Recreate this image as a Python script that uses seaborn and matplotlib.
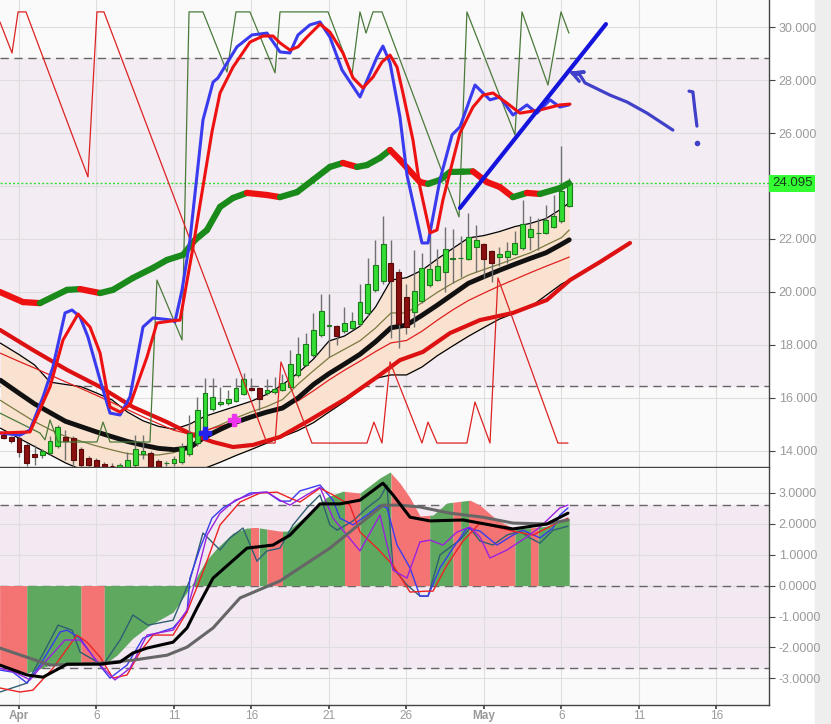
import numpy as np
import pandas as pd
import matplotlib
matplotlib.use("Agg")
import matplotlib.pyplot as plt
import matplotlib.transforms as mtransforms
from matplotlib.collections import LineCollection
import seaborn as sns

# x axis is days from Apr 1 (0 = Apr 1, 30 = May 1); candles every 12h
candle_x = np.arange(74) * 0.5 - 1.0
opens = [14.60, 14.53, 14.49, 14.23, 13.89, 13.85, 13.92, 14.19, 14.53, 14.49,
         14.08, 13.74, 13.66, 13.51, 13.45, 13.36, 13.40, 13.47, 13.89, 13.92,
         13.62, 13.55, 13.55, 13.58, 13.89, 14.30, 14.91, 15.58, 15.77, 15.81,
         15.89, 16.15, 16.38, 16.38, 16.19, 16.23, 16.30, 16.42, 16.87, 17.25,
         17.62, 18.38, 18.72, 18.72, 18.53, 18.64, 18.79, 19.21, 20.08, 20.41,
         21.09, 20.75, 19.81, 19.25, 19.66, 20.26, 20.45, 20.75, 21.25, 21.27,
         21.25, 21.70, 21.81, 21.55, 21.32, 21.32, 21.43, 21.66, 22.08, 22.22,
         22.23, 22.45, 22.68, 23.25]
closes = [14.49, 14.38, 13.96, 13.55, 13.77, 14.00, 14.38, 14.91, 14.38, 13.66,
          13.47, 13.47, 13.40, 13.36, 13.42, 13.47, 13.66, 14.08, 14.00, 13.40,
          13.40, 13.56, 13.70, 14.15, 14.68, 15.55, 16.19, 16.04, 15.85, 15.96,
          16.38, 16.72, 16.30, 15.96, 16.30, 16.34, 16.57, 17.28, 17.66, 18.04,
          18.57, 19.28, 18.75, 18.34, 18.83, 18.91, 19.62, 20.30, 21.02, 21.81,
          20.41, 18.79, 18.68, 20.04, 20.91, 20.87, 20.98, 21.62, 21.28, 21.29,
          22.08, 21.96, 21.25, 21.09, 21.43, 21.55, 21.85, 22.57, 22.38, 22.24,
          22.72, 22.87, 23.81, 24.095]
highs = [14.65, 14.58, 14.55, 14.30, 14.23, 14.08, 14.55, 14.98, 14.79, 14.55,
         14.15, 13.80, 13.75, 13.60, 13.55, 13.55, 13.95, 14.60, 14.60, 14.00,
         13.70, 13.62, 13.80, 14.30, 15.36, 16.04, 16.75, 16.75, 16.42, 16.30,
         16.75, 16.95, 16.75, 16.42, 16.72, 16.80, 16.90, 17.80, 18.30, 18.45,
         19.21, 19.92, 19.92, 18.75, 19.43, 19.25, 20.30, 21.28, 21.96, 22.87,
         21.96, 20.85, 20.30, 21.58, 21.47, 22.23, 21.62, 22.45, 22.38, 22.11,
         22.98, 22.53, 21.85, 21.60, 21.70, 21.90, 22.30, 23.47, 22.87, 22.80,
         23.28, 23.66, 25.51, 24.30]
lows = [14.45, 14.30, 13.77, 13.45, 13.47, 13.75, 13.85, 14.10, 13.66, 13.40,
        13.35, 13.35, 13.30, 13.30, 13.35, 13.30, 13.35, 13.40, 13.70, 13.30,
        13.30, 13.45, 13.45, 13.50, 13.80, 14.20, 14.80, 15.50, 15.70, 15.75,
        15.85, 16.10, 16.25, 15.55, 16.10, 16.15, 16.25, 16.35, 16.80, 17.20,
        17.55, 18.30, 17.55, 18.00, 18.45, 18.60, 18.70, 19.10, 20.00, 20.30,
        18.26, 17.89, 18.40, 18.68, 19.60, 20.20, 20.40, 20.00, 20.34, 20.57,
        21.20, 20.75, 20.53, 20.38, 20.98, 21.10, 21.40, 21.60, 21.60, 21.60,
        22.20, 22.40, 22.60, 23.20]
last_price = 24.095

# band lines (common x)
band_x = [-1.2] + list(range(0, 36)) + [35.5]
band_upper = [18.07, 17.64, 17.25, 16.60, 16.51, 16.43, 16.19, 15.93, 15.47, 15.14,
              14.93, 14.82, 15.01, 15.31, 15.50, 15.69, 15.88, 16.14, 16.50, 16.94,
              17.47, 18.15, 18.34, 18.71, 19.43, 20.45, 20.54, 20.82, 21.25, 21.65,
              22.04, 22.13, 22.28, 22.47, 22.59, 22.77, 23.14, 23.37]
band_mid = [16.67, 16.18, 15.78, 15.45, 15.12, 14.92, 14.72, 14.54, 14.36, 14.22,
            14.10, 14.05, 14.12, 14.53, 14.82, 15.09, 15.29, 15.47, 15.62, 16.00,
            16.51, 16.92, 17.28, 17.65, 18.12, 18.65, 18.75, 19.12, 19.51, 19.92,
            20.33, 20.58, 20.82, 21.05, 21.27, 21.48, 21.80, 21.97]
band_lower = [14.86, 14.48, 14.17, 13.86, 13.55, 13.30, 13.12, 12.93, 12.75, 12.82,
              12.95, 13.08, 13.20, 13.35, 13.58, 13.83, 14.06, 14.30, 14.54, 14.77,
              15.07, 15.47, 15.86, 16.30, 16.74, 16.87, 16.87, 17.17, 17.60, 17.97,
              18.33, 18.66, 18.98, 19.21, 19.44, 19.87, 20.30, 20.45]
band_olive = [15.91, 15.47, 15.11, 14.81, 14.55, 14.37, 14.19, 14.04, 13.90, 13.85,
              13.85, 13.94, 14.14, 14.75, 14.99, 15.25, 15.48, 15.68, 15.94, 16.52,
              17.03, 17.52, 17.84, 18.16, 18.64, 19.21, 19.21, 19.60, 19.99, 20.34,
              20.64, 20.85, 21.05, 21.27, 21.48, 21.77, 22.05, 22.34]
band_red = [17.69, 17.38, 17.13, 16.87, 16.61, 16.36, 16.10, 15.83, 15.56, 15.29,
            15.03, 14.78, 14.64, 14.77, 14.94, 15.10, 15.27, 15.49, 15.69, 15.89,
            16.27, 16.68, 17.05, 17.39, 17.75, 18.08, 18.17, 18.52, 18.94, 19.33,
            19.68, 19.96, 20.23, 20.48, 20.73, 20.97, 21.20, 21.32]

# displaced thick red line
shift_x = [-1.23, 0.90, 3.10, 5.23, 7.35, 9.55, 11.23, 12.52, 13.81, 15.10, 16.84, 18.77,
           21.16, 23.10, 24.58, 26.06, 27.81, 29.74, 31.87, 34.06, 35.55, 37.48, 39.42]
shift_v = [18.57, 17.81, 17.06, 16.42, 15.66, 15.09, 14.60, 14.34, 14.15, 14.23, 14.53, 15.17,
           16.00, 16.79, 17.43, 17.74, 18.45, 18.94, 19.21, 19.70, 20.45, 21.13, 21.85]

# slope-coloured moving average
ma_x = [-1.23, 0.26, 1.35, 3.10, 3.94, 5.23, 6.06, 7.35, 8.65, 9.55,
        10.58, 11.35, 12.13, 12.97, 13.81, 14.71, 16.0, 16.84, 17.94, 18.97,
        20.06, 20.90, 21.81, 22.45, 23.29, 23.94, 24.58, 25.87, 26.39, 27.16,
        27.81, 28.65, 29.29, 30.19, 31.03, 31.87, 32.77, 33.61, 34.90, 35.48]
ma_v = [20.00, 19.62, 19.58, 20.08, 20.11, 19.96, 20.08, 20.53, 20.91, 21.21,
        21.40, 21.96, 22.34, 23.21, 23.55, 23.74, 23.66, 23.58, 23.77, 24.23,
        24.72, 24.87, 24.72, 24.79, 25.06, 25.36, 24.98, 24.15, 24.08, 24.23,
        24.53, 24.54, 24.55, 24.15, 23.96, 23.58, 23.74, 23.70, 23.92, 24.11]

# stochastic pair drawn on the price scale
stoch_blue_x = [-1.23, 0.06, 0.71, 1.55, 2.19, 2.97, 3.42, 3.94, 4.45, 5.23,
                5.87, 6.52, 7.16, 8.00, 8.65, 9.87, 10.06, 10.52, 11.03, 11.87,
                12.52, 12.84, 14.06, 15.03, 16.00, 16.84, 17.48, 18.00, 18.77, 19.42,
                20.06, 20.84, 22.00, 23.10, 23.48, 23.94, 24.58, 25.03, 26.00, 26.39,
                27.16, 27.94, 28.45, 29.42, 30.39, 31.03, 31.87, 32.77, 33.42, 34.26,
                34.90, 35.48]
stoch_blue_v = [14.68, 14.60, 14.79, 16.04, 17.17, 19.21, 19.32, 19.06, 18.30, 16.68,
                15.43, 15.36, 16.04, 18.68, 19.02, 18.94, 18.87, 20.08, 21.96, 26.49,
                27.92, 28.08, 29.25, 29.70, 29.77, 29.06, 29.02, 29.70, 30.08, 30.19,
                29.62, 28.38, 27.36, 28.87, 29.28, 28.64, 26.60, 24.42, 21.85, 21.85,
                24.23, 25.93, 26.23, 27.81, 27.25, 27.36, 26.68, 27.06, 26.75, 27.25,
                26.98, 27.06]
stoch_red_x = [-1.23, 0.71, 2.00, 2.84, 3.81, 4.58, 5.23, 5.87, 6.52, 7.16,
               8.26, 8.90, 9.87, 10.39, 11.23, 12.45, 12.97, 13.81, 14.90, 15.74,
               16.39, 16.84, 17.48, 18.00, 18.58, 19.42, 20.06, 20.90, 21.55, 22.19,
               22.84, 23.42, 23.94, 24.39, 24.77, 25.42, 25.87, 26.52, 26.97, 27.35,
               28.00, 28.45, 29.29, 29.94, 30.58, 31.48, 32.32, 33.61, 34.90, 35.55]
stoch_red_v = [14.68, 14.72, 16.42, 18.19, 19.17, 18.68, 17.70, 15.66, 15.47, 15.74,
               17.55, 18.83, 18.91, 18.94, 21.70, 26.04, 27.51, 28.49, 29.43, 29.66,
               29.66, 29.40, 29.13, 29.25, 29.62, 30.11, 29.81, 29.02, 28.08, 27.70,
               28.11, 28.68, 28.94, 28.49, 27.51, 25.73, 23.96, 22.23, 22.34, 23.47,
               24.98, 26.00, 26.98, 27.43, 27.51, 27.13, 26.75, 26.87, 27.06, 27.09]

# thin zigzag lines
zig_green_x = [-1.23, 1.35, 1.68, 2.0, 2.52, 5.03, 5.42, 5.87, 8.45, 8.90, 10.52, 10.97,
               11.87, 13.42, 14.0, 14.90, 16.52, 16.84, 19.94, 21.48, 22.0, 22.39, 22.84,
               23.42, 28.39, 28.90, 32.0, 32.45, 34.13, 34.97, 35.48]
zig_green_v = [15.43, 14.68, 14.42, 15.17, 14.34, 14.34, 15.09, 14.34, 14.34, 20.45, 18.19, 30.57,
               30.57, 28.30, 30.57, 30.57, 28.27, 30.57, 30.57, 28.19, 30.57, 29.77, 30.57,
               30.57, 22.83, 30.57, 25.93, 30.57, 27.81, 30.57, 29.77]
zig_red_x = [-1.23, -0.45, -0.06, 0.45, 4.45, 5.03, 5.48, 16.0, 16.52, 16.90, 18.90, 22.45,
             22.90, 23.42, 23.94, 26.0, 26.39, 26.97, 28.90, 29.42, 30.39, 30.90, 34.77, 35.42]
zig_red_v = [30.19, 29.02, 30.57, 30.57, 24.34, 30.57, 30.57, 14.30, 14.30, 17.36, 14.30, 14.30,
             15.09, 14.30, 17.36, 14.30, 15.09, 14.30, 14.30, 15.85, 14.30, 20.53, 14.30, 14.30]

# hand drawn annotations
trend_x = [28.45, 37.87]
trend_v = [23.17, 30.11]
arrow_x = [42.19, 40.52, 39.23, 38.13, 36.52, 36.19, 35.68, 36.45, 35.68, 36.15]
arrow_v = [26.11, 26.75, 27.17, 27.43, 27.89, 28.19, 28.27, 28.30, 28.27, 27.95]
excl_x = [43.23, 43.48, 43.61, 43.74]
excl_v = [27.58, 27.55, 26.87, 26.26]
excl_dot = (43.74, 25.62)
cross_blue = (12.0, 14.68)
cross_pink = (13.87, 15.17)

# lower panel
hist_x = [-1.25, 0.52, 2.00, 3.94, 5.42, 6.32, 7.35, 8.45, 9.94, 10.84, 11.35, 12.00,
          12.77, 13.81, 14.71, 15.55, 16.84, 17.29, 18.58, 19.87, 20.90, 22.00, 23.29,
          23.94, 24.58, 25.23, 25.87, 26.71, 27.61, 29.10, 29.74, 30.84, 31.87, 32.77,
          34.06, 35.5]
hist_v = [-2.57, -2.83, -2.57, -2.47, -2.57, -2.25, -1.70, -1.28, -0.86, -0.21, 0.18, 0.76,
          1.21, 1.70, 1.86, 1.86, 1.76, 1.76, 2.28, 2.86, 3.05, 2.99, 3.48,
          3.67, 3.31, 2.84, 2.25, 2.28, 2.67, 2.76, 2.60, 2.12, 1.86, 1.86,
          1.92, 2.18]
hist_breaks = [-1.25, 0.5, 4.0, 5.5, 15.0, 15.5, 16.0, 17.0, 21.0, 22.0, 24.0, 26.5,
               28.0, 28.5, 29.0, 32.0, 33.0, 33.5, 35.5]
hist_sides = list("RGRGRGRGRGRGRGRGRG")

osc_black_x = [-1.23, 0.52, 1.55, 3.10, 5.23, 6.52, 7.35, 8.26, 9.94, 10.84, 11.48, 12.52,
               14.71, 16.39, 17.48, 19.42, 20.71, 22.0, 23.48, 24.13, 25.23, 26.52, 28.65,
               30.84, 31.87, 34.06, 35.42]
osc_black_v = [-2.57, -2.89, -2.96, -2.54, -2.54, -2.47, -2.18, -2.02, -1.83, -1.37, -0.73, 0.24,
               1.21, 1.31, 1.63, 2.64, 2.64, 2.76, 3.31, 2.93, 2.21, 2.09, 2.12,
               1.92, 1.83, 1.99, 2.34]
osc_gray_x = [-1.23, 2.0, 5.23, 7.35, 9.55, 10.84, 12.52, 14.26, 16.84, 20.06, 23.48, 24.58,
              25.87, 27.81, 29.94, 31.87, 34.06, 35.42]
osc_gray_v = [-2.02, -2.57, -2.51, -2.41, -2.25, -1.99, -1.37, -0.40, 0.15, 1.21, 2.60, 2.60,
              2.54, 2.34, 2.21, 2.02, 1.99, 2.12]
osc_blue_x = [-1.23, -0.39, 0.52, 1.35, 2.65, 3.10, 3.94, 5.03, 5.87, 6.97, 8.0, 8.90,
              9.94, 10.84, 11.03, 11.68, 12.45, 13.16, 14.06, 14.90, 16.0, 16.84, 17.48,
              18.13, 19.42, 20.26, 20.71, 21.55, 22.45, 23.29, 23.74, 24.39, 25.23, 25.87,
              26.39, 27.16, 28.0, 28.90, 29.74, 30.84, 31.87, 32.52, 33.61, 34.45, 34.90, 35.42]
osc_blue_v = [-2.73, -2.80, -3.15, -2.57, -1.50, -1.44, -1.70, -2.47, -2.99, -2.57, -1.70, -1.54,
              -1.37, -0.86, 0.24, 1.21, 2.18, 2.51, 2.76, 2.99, 3.02, 2.73, 2.73,
              3.06, 3.25, 2.76, 2.18, 1.96, 2.28, 2.60, 2.51, 1.31, 0.57, -0.34,
              -0.34, 0.57, 1.21, 1.86, 1.76, 1.31, 1.63, 1.79, 1.54, 1.86, 2.28, 2.51]
osc_red_x = [-1.23, 0.06, 0.90, 2.19, 3.74, 4.39, 5.23, 6.06, 6.97, 7.81, 8.65, 9.94,
             10.84, 11.87, 12.97, 14.26, 15.55, 16.65, 17.48, 18.13, 19.42, 20.26, 21.35,
             22.0, 23.10, 24.13, 25.23, 26.32, 26.71, 27.61, 28.65, 29.74, 31.87, 33.16,
             34.45, 35.42]
osc_red_v = [-3.31, -3.44, -3.38, -2.67, -1.60, -1.83, -2.31, -2.99, -2.89, -2.15, -1.60, -1.60,
             -0.86, 0.44, 1.96, 2.70, 2.99, 3.02, 2.83, 2.70, 3.15, 2.93, 2.60,
             1.73, 1.21, 0.66, -0.21, -0.18, -0.18, 0.66, 1.44, 2.02, 1.76, 1.63,
             1.96, 2.18]
osc_purple_x = [-1.23, -0.26, 0.71, 1.68, 2.97, 3.94, 5.23, 6.19, 7.16, 8.26, 9.94, 10.84,
                11.48, 12.13, 12.97, 13.94, 15.23, 16.0, 16.84, 17.48, 18.32, 19.42, 20.26,
                21.16, 22.0, 23.29, 24.13, 25.03, 25.87, 26.52, 27.35, 28.26, 29.10, 29.74,
                30.39, 31.48, 32.77, 33.61, 34.90, 35.42]
osc_purple_v = [-2.67, -2.80, -3.05, -2.47, -1.76, -1.76, -2.57, -3.05, -2.67, -1.60, -1.44, -0.79,
                0.34, 1.63, 2.34, 2.76, 2.99, 3.02, 2.76, 2.60, 2.86, 3.18, 2.18,
                1.63, 1.12, 2.28, 0.50, 0.24, 1.41, 1.47, 1.31, 1.73, 1.89, 1.57,
                0.89, 1.15, 1.57, 1.89, 2.51, 2.60]
osc_slate_x = [-1.23, 0.52, 1.68, 2.52, 3.42, 3.94, 5.42, 6.52, 7.35, 8.32, 9.94, 11.03,
               11.87, 12.97, 13.61, 14.45, 15.35, 16.0, 16.84, 17.68, 18.58, 19.42, 20.06,
               20.52, 21.55, 22.45, 23.29, 23.74, 24.13, 25.03, 25.87, 26.39, 27.16, 28.0,
               28.45, 29.10, 29.74, 30.58, 31.48, 32.32, 32.97, 33.61, 34.45, 35.42]
osc_slate_v = [-3.44, -3.15, -2.09, -1.28, -1.44, -2.15, -2.57, -1.76, -0.95, -1.28, -1.12, 0.18,
               1.70, 1.15, 1.54, 1.86, 0.79, 1.12, 1.21, 1.96, 2.51, 2.93, 1.96,
               1.79, 2.09, 2.51, 2.83, 3.25, 0.57, 0.02, -0.34, -0.34, 0.99, 1.31,
               1.47, 1.86, 1.44, 1.31, 1.63, 1.76, 1.54, 1.37, 1.79, 1.92]

tick_days = [0, 5, 10, 15, 20, 25, 30, 35, 40, 45]
tick_names = ["Apr", "6", "11", "16", "21", "26", "May", "6", "11", "16"]
price_ticks = [14, 16, 18, 20, 22, 24, 26, 28, 30]
osc_ticks = [-3, -2, -1, 0, 1, 2, 3]

sns.set_theme(style="white")
plt.rcParams["font.family"] = ["Liberation Sans", "DejaVu Sans"]

fig = plt.figure(figsize=(8.31, 7.24), dpi=100)
fig.patch.set_facecolor("white")
fig.patches.append(plt.Rectangle((815 / 831, 0), 16 / 831, 1, transform=fig.transFigure,
                                 color="#eeeeee", zorder=-5))
ax = fig.add_axes([0, 1 - 467 / 724, 769 / 831, 467 / 724])
ax2 = fig.add_axes([0, 1 - 705 / 724, 769 / 831, 237 / 724], sharex=ax)

for a in (ax, ax2):
    a.set_facecolor("#fafafa")
    a.set_axisbelow(True)
    a.grid(True, color="#dedede", lw=0.8)
    a.yaxis.tick_right()
    a.tick_params(axis="y", colors="#444444", labelcolor="#9a9a9a", labelsize=9,
                  length=4, width=0.8, pad=3, right=True)
    for s in ("left", "top"):
        a.spines[s].set_visible(False)
    for s in ("right", "bottom"):
        a.spines[s].set_color("#444444")
        a.spines[s].set_linewidth(1)

ax.set_xlim(-1.226, 48.39)
ax.set_ylim(13.396, 31.019)
ax2.set_ylim(-3.86, 3.80)
ax.set_xticks(tick_days)
ax.tick_params(axis="x", length=0, labelbottom=False)
ax2.set_xticks(tick_days)
ax2.set_xticklabels(tick_names)
ax2.tick_params(axis="x", colors="#444444", labelcolor="#9a9a9a", labelsize=8.5,
                length=3, pad=0.5, bottom=True)
for lbl in ax2.get_xticklabels():
    if lbl.get_text() in ("Apr", "May"):
        lbl.set_fontweight("bold")
ax.set_yticks(price_ticks)
ax.set_yticklabels(["" if v == 24 else f"{v:.3f}" for v in price_ticks])
ax2.set_yticks(osc_ticks)
ax2.set_yticklabels([f"{v:.4f}" for v in osc_ticks])

# ---- price panel ----
ax.axhspan(16.45, 28.83, color="#f3ecf3", zorder=0)
for lvl in (16.45, 28.83):
    ax.axhline(lvl, color="#666666", lw=1, ls=(0, (6, 4)), zorder=1)

ax.fill_between(band_x, band_lower, band_upper, color="#f9e2cf", zorder=1, lw=0)
line_kw = dict(ax=ax, estimator=None, sort=False, legend=False)
sns.lineplot(x=band_x, y=band_upper, color="black", lw=0.9, zorder=3, **line_kw)
sns.lineplot(x=band_x, y=band_lower, color="black", lw=0.9, zorder=3, **line_kw)
sns.lineplot(x=band_x, y=band_olive, color="#7a7a40", lw=0.9, zorder=3, **line_kw)
sns.lineplot(x=band_x, y=band_red, color="#e02020", lw=0.9, zorder=3, **line_kw)
sns.lineplot(x=band_x, y=band_mid, color="#111111", lw=3.5, zorder=3, **line_kw)
sns.lineplot(x=shift_x, y=shift_v, color="#dd1111", lw=3, zorder=3, **line_kw)

ax.axhline(last_price, color="#33dd33", lw=1, ls=(0, (1.5, 1.5)), zorder=2)

df = pd.DataFrame(dict(t=candle_x, o=opens, h=highs, l=lows, c=closes))
up = df.c >= df.o
ax.vlines(df.t, df.l, df.h, color="#707070", lw=1, zorder=4)
ax.bar(df.t[up], (df.c - df.o)[up], bottom=df.o[up], width=0.32,
       color="#33dd33", edgecolor="#1c7a1c", lw=0.8, zorder=5)
ax.bar(df.t[~up], (df.c - df.o)[~up], bottom=df.o[~up], width=0.32,
       color="#8a0f0f", edgecolor="#5a0a0a", lw=0.8, zorder=5)

sns.lineplot(x=zig_green_x, y=zig_green_v, color="#4a7a3a", lw=0.9, zorder=6, **line_kw)
sns.lineplot(x=zig_red_x, y=zig_red_v, color="#dd2222", lw=0.9, zorder=6, **line_kw)

pts = np.column_stack([ma_x, ma_v])
segs = np.stack([pts[:-1], pts[1:]], axis=1)
cols = ["#1a8a1a" if b >= a else "#ee1111" for a, b in zip(ma_v[:-1], ma_v[1:])]
ax.add_collection(LineCollection(segs, colors=cols, linewidths=4.5, capstyle="round", zorder=7))

sns.lineplot(x=stoch_blue_x, y=stoch_blue_v, color="#3a3aee", lw=2.2, zorder=8, **line_kw)
sns.lineplot(x=stoch_red_x, y=stoch_red_v, color="#ee1111", lw=2.2, zorder=8, **line_kw)

sns.lineplot(x=trend_x, y=trend_v, color="#1414dd", lw=3, zorder=9, **line_kw)
ax.plot(arrow_x, arrow_v, color="#4040c8", lw=2.3, solid_capstyle="round", zorder=9)
ax.plot(excl_x, excl_v, color="#4040c8", lw=2.3, solid_capstyle="round", zorder=9)
ax.plot(*excl_dot, marker="o", ms=3, color="#4040c8", zorder=9)
ax.plot(*cross_blue, marker="P", ms=9, color="#2222ee", zorder=9)
ax.plot(*cross_pink, marker="P", ms=8, color="#ee33ee", zorder=9)

ax.text(1.004, last_price, f"{last_price:.3f}", transform=mtransforms.blended_transform_factory(
    ax.transAxes, ax.transData), ha="left", va="center", fontsize=9.5, color="#1a3a1a",
    bbox=dict(boxstyle="square,pad=0.2", fc="#33ff33", ec="none"), clip_on=False, zorder=10)

# ---- oscillator panel ----
ax2.axhspan(-2.68, 2.62, color="#f3e9f3", zorder=0)
for lvl in (-2.68, 0.0, 2.62):
    ax2.axhline(lvl, color="#666666", lw=1, ls=(0, (6, 4)), zorder=1)

xs = np.unique(np.concatenate([hist_x, hist_breaks]))
vs = np.interp(xs, hist_x, hist_v)
for b0, b1, side in zip(hist_breaks[:-1], hist_breaks[1:], hist_sides):
    m = (xs >= b0) & (xs <= b1)
    ax2.fill_between(xs[m], 0, vs[m], color="#5fa85f" if side == "G" else "#f47474",
                     lw=0, zorder=2)

line_kw2 = dict(ax=ax2, estimator=None, sort=False, legend=False)
sns.lineplot(x=osc_slate_x, y=osc_slate_v, color="#2f5f73", lw=1, zorder=3, **line_kw2)
sns.lineplot(x=osc_blue_x, y=osc_blue_v, color="#3a3aee", lw=1, zorder=3, **line_kw2)
sns.lineplot(x=osc_red_x, y=osc_red_v, color="#ee2222", lw=1, zorder=3, **line_kw2)
sns.lineplot(x=osc_purple_x, y=osc_purple_v, color="#9a22dd", lw=1, zorder=3, **line_kw2)
sns.lineplot(x=osc_gray_x, y=osc_gray_v, color="#666666", lw=2.2, zorder=4, **line_kw2)
sns.lineplot(x=osc_black_x, y=osc_black_v, color="#000000", lw=2.2, zorder=5, **line_kw2)

ax.set_xlabel("")
ax2.set_xlabel("")
ax.set_ylabel("")
ax2.set_ylabel("")

fig.savefig("out.png", dpi=100)
